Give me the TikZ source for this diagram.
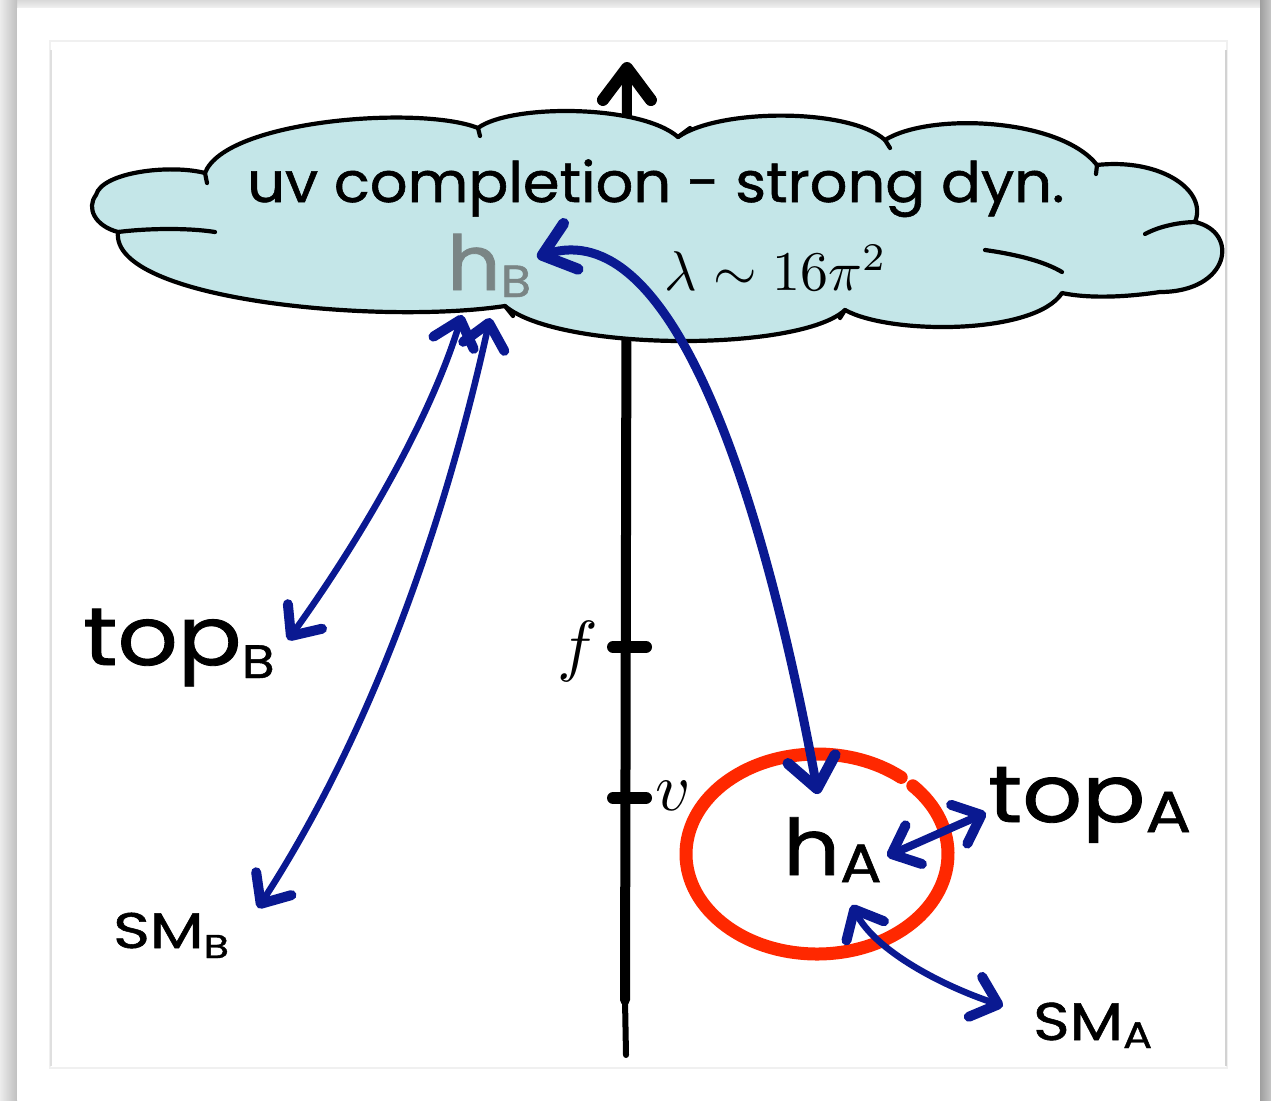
\documentclass[tikz,border=0pt]{standalone}
\usepackage{fix-cm}
\usepackage{fontspec}
\newfontfamily\hand[FakeBold=1]{Poppins}
\usetikzlibrary{arrows.meta}
\definecolor{cloudc}{RGB}{196,230,232}
\definecolor{navy}{RGB}{10,25,145}
\definecolor{redo}{RGB}{255,40,0}
\definecolor{grayh}{RGB}{122,133,133}
\tikzset{
  tipS/.tip={Straight Barb[length=24pt,width=42pt,line width=10pt,round]},
  tipL/.tip={Straight Barb[length=30pt,width=48pt,line width=11pt,round]},
  bl/.style={draw=navy,line cap=round},
  cloudline/.style={draw=black,line width=4.2pt,line cap=round,line join=round},
  axisline/.style={draw=black,line width=10pt,line cap=round},
  ticklin/.style={draw=black,line width=12pt,line cap=round},
  handtext/.style={inner sep=0pt,anchor=base west,text=black},
  mathtext/.style={inner sep=0pt,text=black},
}
\begin{document}
\begin{tikzpicture}[x=1pt,y=-1pt]
\useasboundingbox (0,0) rectangle (1271,1100);
% frame
\fill[white] (0,0) rectangle (1271,1100);
\shade[top color=gray!30, bottom color=gray!8] (0,0) rectangle (1271,9);
\shade[left color=gray!15, right color=gray!50] (0,0) rectangle (17,1100);
\shade[left color=gray!75, right color=gray!45] (1260,0) rectangle (1271,1100);
\fill[white] (17,8) rectangle (1260,1100);
\draw[gray!12,line width=2pt] (50,41) rectangle (1227,1068);
\draw[gray!35,line width=2pt] (1226,50) -- (1226,1066);
\draw[gray!25,line width=1.6pt] (51,50) -- (51,1066);

% axis
\coordinate (ax0) at (625,1000);
\coordinate (ax1) at (627,62);
\coordinate (axb) at (626,1055);
\draw[axisline,-{Straight Barb[length=32pt,width=48pt,line width=12pt,round]}] (ax0) -- (ax1);
\draw[black,line width=6pt,line cap=round] (ax0) -- (axb);
\coordinate (tf0) at (613,647); \coordinate (tf1) at (646,647);
\coordinate (tv0) at (613,798); \coordinate (tv1) at (646,798);
\draw[ticklin] (tf0) -- (tf1);
\draw[ticklin] (tv0) -- (tv1);
\node[mathtext,scale=6.8] (flab) at (578,651) {$f$};
\node[mathtext,scale=6.8] (vlab) at (673,796) {$v$};

% cloud
\path[fill=cloudc,cloudline] (96,195)
  .. controls (102,172) and (170,164) .. (205,173)
  .. controls (225,120) and (420,105) .. (478,128)
  .. controls (510,104) and (640,104) .. (678,137)
  .. controls (720,108) and (850,108) .. (885,140)
  .. controls (930,112) and (1060,118) .. (1097,165)
  .. controls (1160,158) and (1208,190) .. (1195,222)
  .. controls (1240,232) and (1230,292) .. (1160,292)
  .. controls (1120,298) and (1085,298) .. (1062,293)
  .. controls (1035,335) and (890,335) .. (845,310)
  .. controls (800,352) and (560,352) .. (505,306)
  .. controls (380,325) and (110,300) .. (118,232)
  .. controls (95,226) and (86,208) .. (96,195) -- cycle;
% inner strokes of cloud
\draw[cloudline] (118,232) .. controls (150,228) and (190,228) .. (215,232);
\draw[cloudline] (205,173) -- (207,183);
\draw[cloudline] (478,128) -- (480,136);
\draw[cloudline] (678,137) -- (690,128);
\draw[cloudline] (885,140) -- (890,148);
\draw[cloudline] (1097,165) -- (1096,174);
\draw[cloudline] (1145,234) .. controls (1160,226) and (1180,222) .. (1197,222);
\draw[cloudline] (985,250) .. controls (1020,255) and (1045,262) .. (1062,272);
\draw[cloudline] (505,306) -- (513,316);
\draw[cloudline] (845,310) -- (840,318);

% texts
\node[handtext] (title) at (247,202) {\scalebox{1.055}[1]{\hand\fontsize{56}{60}\selectfont uv completion - strong dyn.}};
\node[handtext,text=grayh] (hB) at (447,290) {\scalebox{1.1}[1]{\hand\fontsize{76}{80}\selectfont h\raisebox{-7pt}{\fontsize{45}{50}\selectfont B}}};
\node[mathtext,scale=5.6] (lam) at (776,268) {$\lambda\sim16\pi^2$};
\node[handtext] (hA) at (783,875) {\scalebox{1.14}[1]{\hand\fontsize{78}{80}\selectfont h\raisebox{-7pt}{\fontsize{54}{60}\selectfont A}}};
\node[handtext] (topB) at (83,665) {\scalebox{1.15}[1]{\hand\fontsize{82}{90}\selectfont top\raisebox{-13pt}{\fontsize{47}{50}\selectfont B}}};
\node[handtext] (topA) at (988,822) {\scalebox{1.17}[1]{\hand\fontsize{80}{90}\selectfont top\raisebox{-10pt}{\fontsize{58}{60}\selectfont A}}};
\node[handtext] (SMB) at (113,948) {\scalebox{1.25}[1]{\hand\fontsize{50}{60}\selectfont SM\raisebox{-10pt}{\fontsize{33}{40}\selectfont B}}};
\node[handtext] (SMA) at (1033,1040) {\scalebox{1.17}[1]{\hand\fontsize{53}{60}\selectfont SM\raisebox{-8pt}{\fontsize{37}{40}\selectfont A}}};

% red ring
\draw[redo,line width=13pt,line cap=round] (817,854) ++(-43:131 and 100)
  arc[start angle=-43,end angle=310,x radius=131,y radius=100];

% connectors
\coordinate (hBt) at (537,257);
\coordinate (hAt) at (818,794);
\coordinate (cB1) at (462,315);
\coordinate (tBt) at (288,640);
\coordinate (cB2) at (490,318);
\coordinate (sBt) at (258,908);
\coordinate (hAr) at (887,856);
\coordinate (tAt) at (986,813);
\coordinate (hAb) at (852,905);
\coordinate (sAt) at (1003,1006);
\draw[bl,line width=9pt,tipL-tipL] (hBt) .. controls (670,215) and (760,480) .. (hAt);
\draw[bl,line width=6.5pt,tipS-tipS] (cB1) .. controls (430,420) and (360,540) .. (tBt);
\draw[bl,line width=6.5pt,tipS-tipS] (cB2) .. controls (450,500) and (380,720) .. (sBt);
\draw[bl,line width=8pt,tipS-tipS] (hAr) .. controls (920,842) and (955,826) .. (tAt);
\draw[bl,line width=6.5pt,tipS-tipS] (hAb) .. controls (875,950) and (940,985) .. (sAt);
\end{tikzpicture}
\end{document}
